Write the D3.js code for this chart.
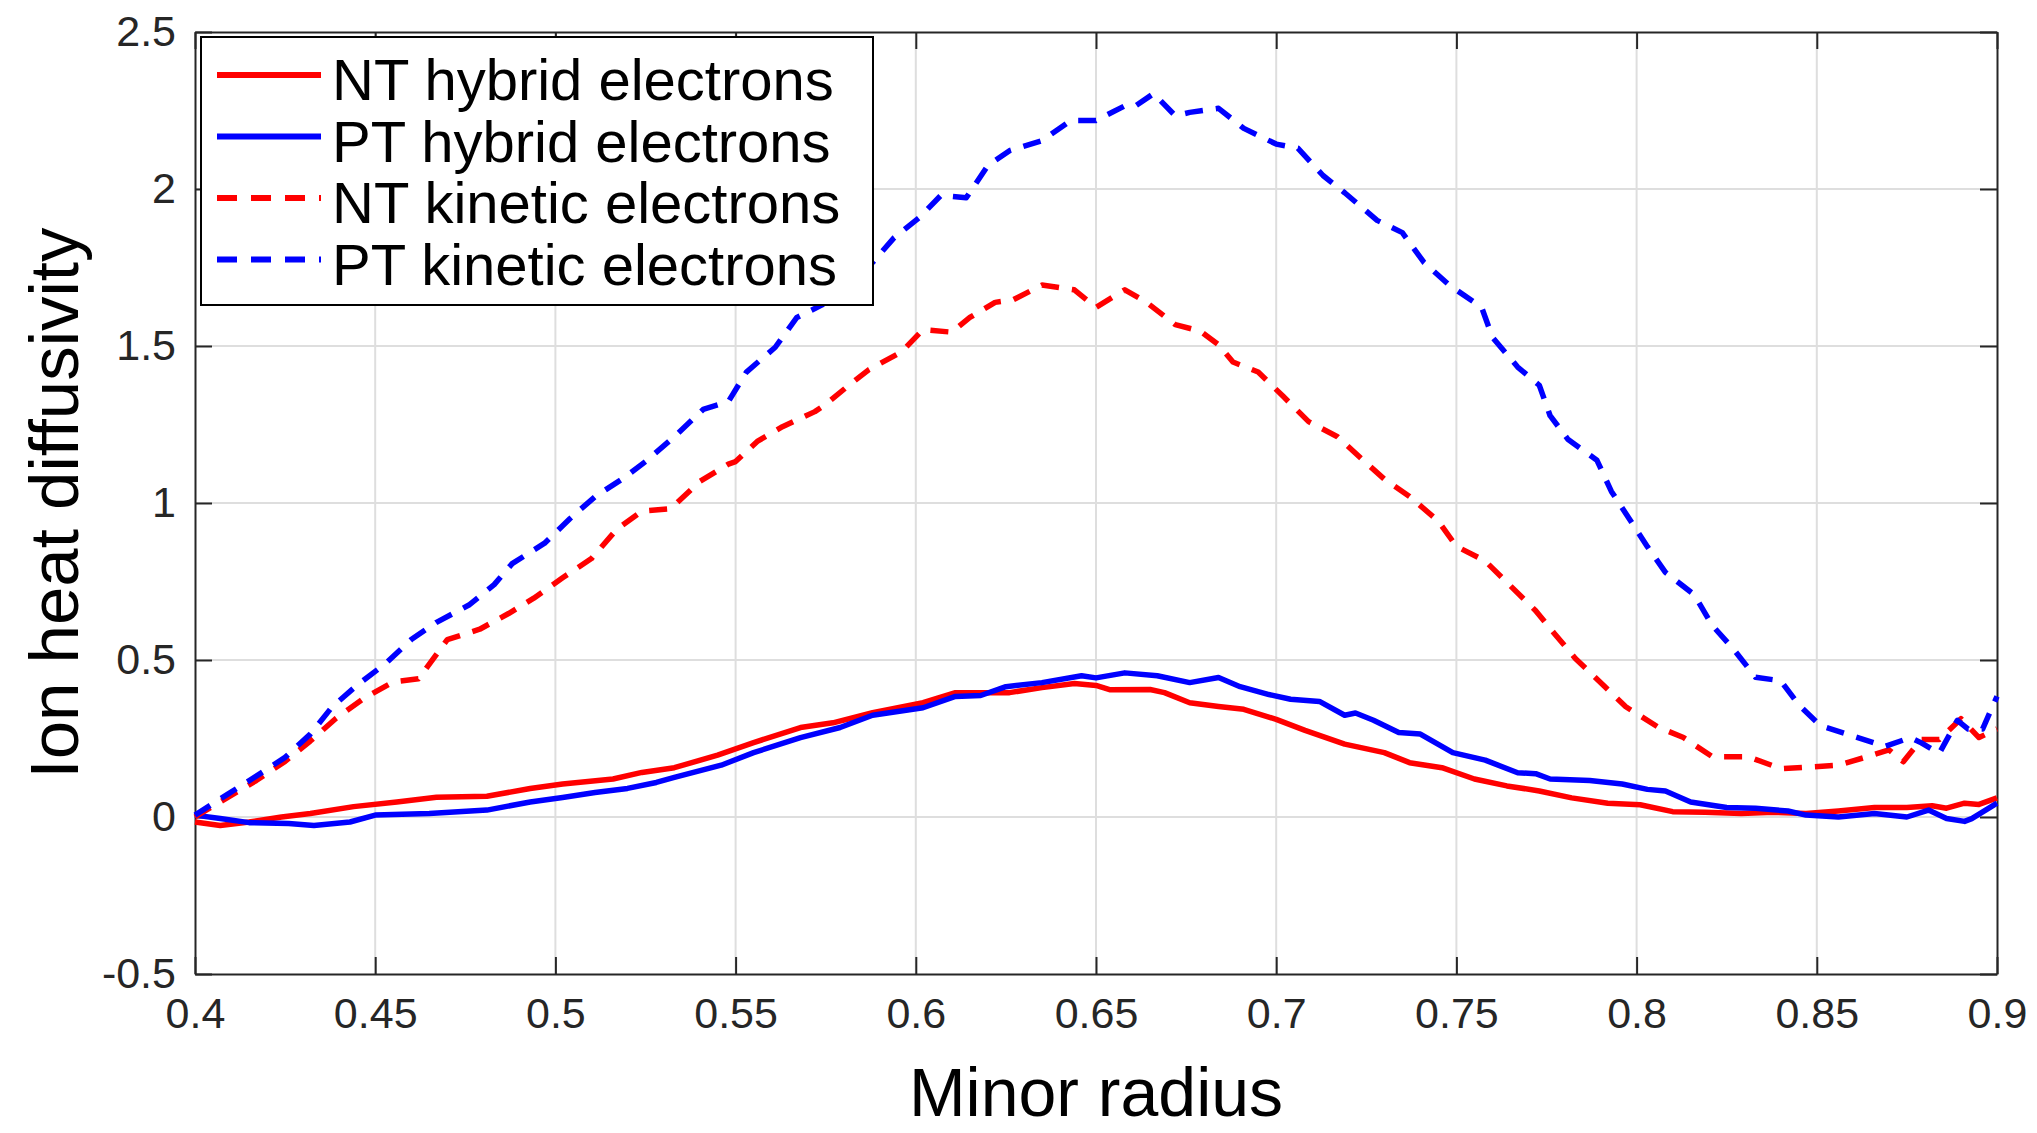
<!DOCTYPE html>
<html>
<head>
<meta charset="utf-8">
<script src="https://d3js.org/d3.v7.min.js"></script>
<style>
  body { margin: 0; background: #fff; }
  text { font-family: "Liberation Sans", Arial, sans-serif; }
</style>
</head>
<body>
<div id="chart"></div>
<script>
// data (radius, diffusivity)
var ntHybridX = [0.400,0.407,0.415,0.424,0.432,0.444,0.456,0.467,0.481,0.493,0.502,0.516,0.524,0.533,0.545,0.555,0.568,0.577,0.588,0.602,0.611,0.618,0.626,0.635,0.644,0.650,0.654,0.665,0.669,0.676,0.684,0.691,0.700,0.708,0.719,0.730,0.737,0.746,0.755,0.764,0.773,0.782,0.792,0.801,0.810,0.819,0.829,0.838,0.847,0.856,0.866,0.875,0.882,0.886,0.891,0.895,0.900];
var ntHybridY = [-0.016,-0.027,-0.016,0.000,0.011,0.033,0.048,0.063,0.066,0.091,0.105,0.121,0.142,0.157,0.197,0.237,0.285,0.300,0.332,0.364,0.396,0.396,0.396,0.412,0.425,0.419,0.405,0.406,0.396,0.364,0.352,0.343,0.311,0.276,0.232,0.205,0.173,0.157,0.121,0.099,0.083,0.061,0.044,0.039,0.017,0.015,0.011,0.015,0.011,0.019,0.030,0.030,0.036,0.028,0.044,0.040,0.061];

var ptHybridX = [0.400,0.407,0.415,0.426,0.433,0.443,0.450,0.465,0.481,0.493,0.502,0.511,0.520,0.528,0.533,0.546,0.555,0.568,0.579,0.588,0.602,0.611,0.618,0.625,0.635,0.646,0.650,0.658,0.667,0.676,0.684,0.690,0.698,0.704,0.712,0.719,0.722,0.727,0.734,0.740,0.749,0.758,0.767,0.772,0.776,0.787,0.796,0.803,0.808,0.815,0.825,0.833,0.842,0.847,0.856,0.866,0.875,0.881,0.886,0.891,0.893,0.900];
var ptHybridY = [0.006,-0.005,-0.018,-0.021,-0.027,-0.016,0.006,0.011,0.022,0.048,0.062,0.078,0.091,0.110,0.126,0.165,0.205,0.253,0.285,0.324,0.348,0.384,0.387,0.415,0.428,0.450,0.443,0.459,0.450,0.428,0.444,0.415,0.390,0.375,0.368,0.324,0.331,0.308,0.269,0.264,0.205,0.181,0.141,0.138,0.121,0.116,0.105,0.088,0.083,0.048,0.030,0.028,0.019,0.006,0.000,0.011,0.000,0.022,-0.005,-0.014,-0.005,0.044];

var ntKineticX = [0.400,0.409,0.417,0.425,0.432,0.439,0.447,0.455,0.462,0.470,0.479,0.487,0.494,0.502,0.510,0.517,0.524,0.532,0.540,0.548,0.550,0.556,0.563,0.572,0.575,0.581,0.587,0.596,0.602,0.610,0.615,0.622,0.627,0.635,0.644,0.650,0.658,0.664,0.672,0.679,0.684,0.688,0.695,0.702,0.709,0.717,0.723,0.730,0.737,0.745,0.750,0.758,0.765,0.772,0.777,0.783,0.791,0.797,0.806,0.813,0.821,0.831,0.840,0.849,0.856,0.864,0.870,0.874,0.879,0.884,0.890,0.895,0.900];
var ntKineticY = [0.000,0.062,0.116,0.177,0.242,0.313,0.379,0.430,0.440,0.565,0.598,0.648,0.697,0.762,0.823,0.916,0.974,0.982,1.068,1.124,1.132,1.196,1.243,1.291,1.314,1.371,1.425,1.481,1.552,1.544,1.591,1.639,1.647,1.694,1.679,1.623,1.679,1.639,1.568,1.547,1.504,1.449,1.417,1.339,1.259,1.211,1.148,1.076,1.021,0.942,0.862,0.815,0.736,0.657,0.587,0.505,0.417,0.351,0.286,0.253,0.192,0.192,0.154,0.160,0.165,0.192,0.214,0.176,0.247,0.247,0.313,0.253,0.280];

var ptKineticX = [0.400,0.409,0.417,0.425,0.432,0.438,0.445,0.453,0.460,0.467,0.476,0.483,0.488,0.497,0.504,0.511,0.519,0.525,0.533,0.541,0.548,0.553,0.561,0.567,0.574,0.588,0.594,0.601,0.607,0.614,0.620,0.626,0.635,0.643,0.650,0.658,0.661,0.666,0.672,0.676,0.684,0.691,0.700,0.706,0.713,0.719,0.728,0.735,0.741,0.748,0.757,0.760,0.767,0.773,0.776,0.781,0.789,0.793,0.798,0.803,0.808,0.816,0.821,0.827,0.833,0.840,0.845,0.851,0.860,0.869,0.876,0.879,0.884,0.889,0.892,0.896,0.900];
var ptKineticY = [0.006,0.072,0.130,0.190,0.264,0.350,0.420,0.490,0.565,0.620,0.675,0.740,0.807,0.872,0.950,1.020,1.080,1.132,1.211,1.298,1.323,1.417,1.496,1.591,1.631,1.766,1.845,1.909,1.980,1.972,2.075,2.122,2.154,2.218,2.218,2.265,2.265,2.304,2.233,2.244,2.257,2.193,2.143,2.130,2.043,1.988,1.900,1.861,1.766,1.694,1.623,1.528,1.433,1.375,1.278,1.202,1.136,1.037,0.949,0.861,0.779,0.708,0.610,0.533,0.445,0.434,0.357,0.291,0.258,0.225,0.253,0.236,0.203,0.308,0.280,0.280,0.384];

var seriesNames = ["NT hybrid electrons", "PT hybrid electrons", "NT kinetic electrons", "PT kinetic electrons"];
var xTicks = [0.4, 0.45, 0.5, 0.55, 0.6, 0.65, 0.7, 0.75, 0.8, 0.85, 0.9];
var yTicks = [-0.5, 0, 0.5, 1, 1.5, 2, 2.5];

// set the dimensions and margins of the graph
var margin = {top: 32, right: 40, bottom: 159, left: 195},
    width = 2037 - margin.left - margin.right,
    height = 1133 - margin.top - margin.bottom;

var svg = d3.select("#chart")
  .append("svg")
    .attr("width", width + margin.left + margin.right)
    .attr("height", height + margin.top + margin.bottom)
  .append("g")
    .attr("transform", "translate(" + margin.left + "," + margin.top + ")");

var x = d3.scaleLinear().domain([0.4, 0.9]).range([0, width]);
var y = d3.scaleLinear().domain([-0.5, 2.5]).range([height, 0]);

// grid
svg.append("g")
  .selectAll("line")
  .data(xTicks.slice(1, -1))
  .enter().append("line")
    .attr("x1", function(d) { return x(d); })
    .attr("x2", function(d) { return x(d); })
    .attr("y1", 0).attr("y2", height)
    .attr("stroke", "#dedede").attr("stroke-width", 2);
svg.append("g")
  .selectAll("line")
  .data(yTicks.slice(1, -1))
  .enter().append("line")
    .attr("y1", function(d) { return y(d); })
    .attr("y2", function(d) { return y(d); })
    .attr("x1", 0).attr("x2", width)
    .attr("stroke", "#dedede").attr("stroke-width", 2);

// axes (ticks inside, mirrored on top and right like matlab box)
var fmt = function(d) { return d3.format("")(d).replace("\u2212", "-"); };
function styleAxis(g) {
  g.select(".domain").attr("stroke", "#262626").attr("stroke-width", 2);
  g.selectAll(".tick line").attr("stroke", "#262626").attr("stroke-width", 2);
  g.selectAll("text").attr("fill", "#262626").style("font-size", "43px");
}
svg.append("g")
  .attr("transform", "translate(0," + height + ")")
  .call(d3.axisBottom(x).tickValues(xTicks).tickSize(-17).tickSizeOuter(0).tickPadding(23).tickFormat(fmt))
  .call(styleAxis)
  .attr("font-family", null);
svg.append("g")
  .call(d3.axisLeft(y).tickValues(yTicks).tickSize(-17).tickSizeOuter(0).tickPadding(19).tickFormat(fmt))
  .call(styleAxis)
  .attr("font-family", null);
svg.append("g")
  .call(d3.axisTop(x).tickValues(xTicks).tickSize(-17).tickSizeOuter(0).tickFormat(""))
  .call(styleAxis);
svg.append("g")
  .attr("transform", "translate(" + width + ",0)")
  .call(d3.axisRight(y).tickValues(yTicks).tickSize(-17).tickSizeOuter(0).tickFormat(""))
  .call(styleAxis);

// lines
var series = [
  {name: seriesNames[0], xs: ntHybridX, ys: ntHybridY, color: "#ff0000", dash: null},
  {name: seriesNames[1], xs: ptHybridX, ys: ptHybridY, color: "#0000ff", dash: null},
  {name: seriesNames[2], xs: ntKineticX, ys: ntKineticY, color: "#ff0000", dash: "18,13"},
  {name: seriesNames[3], xs: ptKineticX, ys: ptKineticY, color: "#0000ff", dash: "18,13"}
];
var line = d3.line()
  .x(function(d) { return x(d[0]); })
  .y(function(d) { return y(d[1]); });

series.forEach(function(s) {
  svg.append("path")
    .datum(d3.zip(s.xs, s.ys))
    .attr("fill", "none")
    .attr("stroke", s.color)
    .attr("stroke-width", 5.5)
    .attr("stroke-linejoin", "round")
    .attr("stroke-dasharray", s.dash)
    .attr("d", line);
});

// legend
var leg = svg.append("g").attr("transform", "translate(6,5)");
leg.append("rect")
  .attr("width", 672).attr("height", 268)
  .attr("fill", "#fff").attr("stroke", "#000").attr("stroke-width", 2);
series.forEach(function(s, i) {
  var cy = 38 + i * 61.5;
  leg.append("line")
    .attr("x1", 16).attr("x2", 120)
    .attr("y1", cy).attr("y2", cy)
    .attr("stroke", s.color).attr("stroke-width", 6)
    .attr("stroke-dasharray", s.dash ? "20,14" : null);
  leg.append("text")
    .attr("x", 131).attr("y", cy + 25)
    .style("font-size", "58px")
    .attr("fill", "#000")
    .text(s.name);
});

// axis labels
svg.append("text")
  .attr("x", width / 2).attr("y", 1116 - margin.top)
  .attr("text-anchor", "middle")
  .style("font-size", "68px")
  .text("Minor radius");
svg.append("text")
  .attr("transform", "translate(" + (78 - margin.left) + "," + (503 - margin.top) + ") rotate(-90)")
  .attr("text-anchor", "middle")
  .style("font-size", "69px")
  .text("Ion heat diffusivity");
</script>
</body>
</html>
